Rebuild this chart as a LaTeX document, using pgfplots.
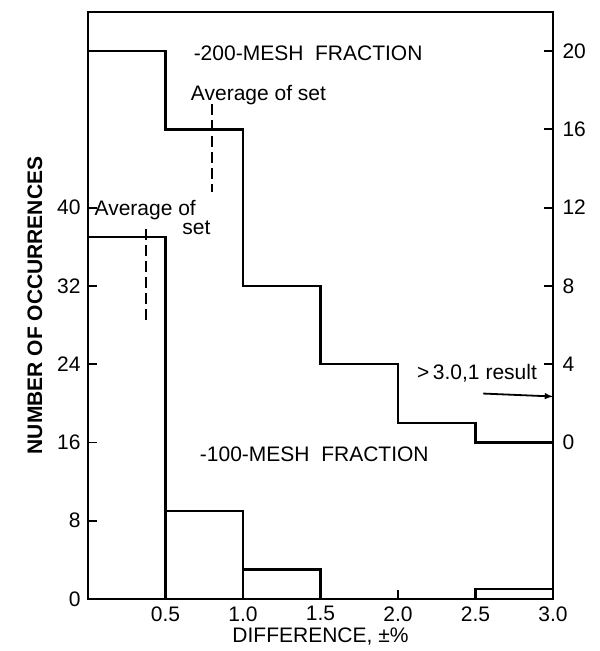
\documentclass[border=0pt]{standalone}
\usepackage{pgfplots}
\pgfplotsset{compat=1.18}
\usepackage{fontspec}
\setmainfont{Liberation Sans}
\newcommand{\lab}{\fontsize{21}{25}\selectfont}
\begin{document}
\begin{tikzpicture}
\begin{axis}[
  name=main,
  scale only axis, width=465pt, height=587pt,
  xmin=0, xmax=3, ymin=0, ymax=60,
  axis line style={line width=2.2pt},
  tick style={line width=1.8pt, black},
  tick align=inside, major tick length=9pt,
  xtick={0.5,1,1.5,2,2.5,3}, xticklabels={0.5,1.0,1.5,2.0,2.5,3.0},
  ytick={0,8,16,24,32,40},
  xtick pos=bottom, ytick pos=left,
  /pgf/number format/assume math mode=true,
  ticklabel style={font=\lab},
  yticklabel shift=4pt,
  xticklabel shift=4pt,
  xlabel={DIFFERENCE, ±\%},
  ylabel={\bfseries NUMBER OF OCCURRENCES},
  label style={font=\lab},
  xlabel shift=0pt,
  ylabel shift=8pt,
]
\addplot[black, line width=2.4pt]
  coordinates {(0,37) (0.5,37) (0.5,0) (0.5,9) (1,9) (1,0) (1,3) (1.5,3) (1.5,0) (2.5,0) (2.5,1) (3,1)};
\node[font=\lab] at (axis cs:1.42,55.8) {-200-MESH\ \ FRACTION};
\node[font=\lab] at (axis cs:1.10,51.5) {Average of set};
\draw[line width=1.8pt, dash pattern=on 11pt off 5pt] (axis cs:0.80,50.6) -- (axis cs:0.80,41.6);
\node[font=\lab, anchor=west] at (axis cs:0.02,39.8) {Average of};
\node[font=\lab] at (axis cs:0.70,37.9) {set};
\draw[line width=1.8pt, dash pattern=on 11pt off 5pt] (axis cs:0.375,37.8) -- (axis cs:0.375,28.0);
\node[font=\lab] at (axis cs:2.51,23.1) {>\,3.0,1 result};
\draw[-latex, line width=1.8pt] (axis cs:2.55,21.0) -- (axis cs:3.0,20.7);
\node[font=\lab] at (axis cs:1.46,14.8) {-100-MESH\ \ FRACTION};
\end{axis}
\begin{axis}[
  scale only axis, width=465pt, height=587pt,
  xmin=0, xmax=3, ymin=-8, ymax=22,
  axis x line=none, axis y line*=right,
  axis line style={line width=2.2pt},
  tick style={line width=1.8pt, black},
  tick align=inside, major tick length=9pt,
  ytick={0,4,8,12,16,20},
  /pgf/number format/assume math mode=true,
  ticklabel style={font=\lab},
  yticklabel shift=6pt,
]
\addplot[const plot, line width=2.4pt, black]
  coordinates {(0,20) (0.5,16) (1,8) (1.5,4) (2,1) (2.5,0) (3,0)};
\end{axis}
\path ([shift={(-88pt,-52pt)}]main.south west) rectangle ([shift={(47pt,12pt)}]main.north east);
\end{tikzpicture}
\end{document}
